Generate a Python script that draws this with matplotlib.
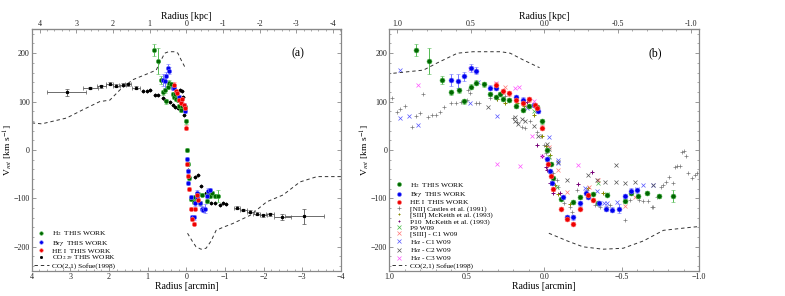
import numpy as np
import matplotlib
matplotlib.use("Agg")
from matplotlib import pyplot as plt
from matplotlib.ticker import AutoMinorLocator, FuncFormatter, MultipleLocator

plt.rcParams['font.family'] = ['Liberation Serif', 'DejaVu Serif']
plt.rcParams['mathtext.fontset'] = 'stix'

KPC_PER_ARCMIN = 1.055

# ---- this work: H2 (green) ----
h2_r = [0.826, 0.746, 0.66, 0.60, 0.553, 0.516, 0.471, 0.439, 0.39, 0.353, 0.31, 0.288, 0.263,
        0.226, 0.18, 0.137, 0.101, 0.047, 0.015,
        -0.021, -0.043, -0.06, -0.108, -0.185, -0.228, -0.314, -0.35, -0.405, -0.523, -0.56,
        -0.608, -0.663, -0.744, -0.83]
h2_v = [207, 184, 145, 119, 123, 101, 131, 139, 136, 115, 110, 116, 106,
        104, 91, 83, 91, 88, 59,
        0, -28, -57, -102, -108, -98, -90, -109, -92, -106, -88,
        -95, -88, -95, -95]
h2_err = [12, 26, 8, 5, 5, 5, 5, 5, 5, 4, 4, 4, 4,
          4, 4, 4, 4, 4, 6,
          4, 4, 4, 4, 4, 4, 4, 4, 4, 4, 4,
          4, 4, 5, 12]

# ---- this work: Br gamma (blue) ----
brg_r = [0.60, 0.557, 0.516, 0.471, 0.439, 0.353, 0.31, 0.18, 0.137, 0.069, 0.037,
         -0.02, -0.035, -0.05, -0.12, -0.146, -0.185, -0.228, -0.271, -0.28, -0.357,
         -0.40, -0.437, -0.48, -0.523, -0.56, -0.60]
brg_v = [145, 143, 152, 169, 164, 129, 129, 109, 104, 93, 81,
         -19, -43, -69, -98, -139, -139, -110, -88, -97, -110,
         -121, -123, -121, -95, -84, -83]
brg_err = [12, 15, 10, 8, 8, 5, 5, 5, 5, 5, 5,
           4, 4, 4, 4, 5, 5, 5, 5, 5, 5,
           6, 6, 10, 5, 5, 5]

# ---- this work: He I (red) ----
hei_r = [0.31, 0.267, 0.23, 0.18, 0.137, 0.10, 0.058, 0.047, 0.015,
         -0.024, -0.043, -0.06, -0.108, -0.146, -0.185, -0.228, -0.28, -0.314]
hei_v = [135, 121, 117, 104, 98, 105, 93, 86, 46,
         -29, -54, -81, -121, -143, -152, -121, -93, -104]
hei_err = [5, 5, 5, 5, 5, 5, 5, 5, 5,
           4, 4, 4, 4, 4, 4, 4, 4, 4]

# ---- this work: CO 2.29 (black) ----
co_r = [3.10, 2.48, 2.20, 1.98, 1.81, 1.65, 1.52, 1.31, 1.12, 1.03, 0.95, 0.82, 0.74, 0.61,
        0.56, 0.43, 0.35, 0.30, 0.22, 0.17, 0.12, 0.08, 0.05,
        -0.03, -0.07, -0.22, -0.31, -0.39, -0.52, -0.57, -0.65, -0.74, -0.87, -0.95, -1.02,
        -1.30, -1.47, -1.65, -1.82, -1.99, -2.16, -2.48, -3.05]
co_v = [119, 128, 132, 137, 133, 135, 136, 129, 121, 122, 124, 114, 113, 108,
        104, 100, 93, 89, 87, 124, 121, 110, 72,
        -41, -55, -55, -52, -75, -89, -86, -110, -110, -114, -110, -112,
        -119, -124, -128, -132, -135, -133, -138, -137]
co_xerr = [0.50, 0.19, 0.11, 0.09, 0.09, 0.08, 0.08, 0.10, 0, 0, 0, 0, 0, 0,
           0, 0, 0, 0, 0, 0, 0, 0, 0,
           0, 0, 0, 0, 0, 0, 0, 0, 0, 0, 0, 0,
           0.08, 0.09, 0.09, 0.09, 0.09, 0.10, 0.22, 0.50]
co_yerr = [8, 3, 3, 3, 3, 3, 3, 3, 0, 0, 0, 0, 0, 0,
           0, 0, 0, 0, 0, 0, 0, 0, 0,
           0, 0, 0, 0, 0, 0, 0, 0, 0, 0, 0, 0,
           3, 3, 3, 3, 3, 3, 6, 15]

# ---- CO(2,1) Sofue (1998) ----
sof_pos_r = [4.0, 3.74, 3.10, 2.68, 2.24, 1.98, 1.72, 1.39, 1.02, 0.78, 0.69, 0.56, 0.46,
             0.28, 0.22, 0.135, 0.03]
sof_pos_v = [56, 54, 66, 83, 100, 103, 124, 145, 157, 165, 180, 200, 203,
             203, 200, 186, 170]
sof_neg_r = [-0.03, -0.15, -0.25, -0.38, -0.51, -0.64, -0.77, -0.94, -1.2, -1.65, -2.08,
             -2.5, -2.94, -3.38, -3.8, -4.0]
sof_neg_v = [-172, -188, -200, -205, -203, -188, -166, -160, -152, -135, -107,
             -93, -66, -55, -55, -55]

# ---- literature (panel b) ----
nii_r = [0.98, 0.95, 0.93, 0.90, 0.853, 0.826, 0.80, 0.78, 0.75, 0.725, 0.70, 0.675, 0.65,
         0.60, 0.57, 0.54, 0.50, 0.495, 0.477, 0.44, 0.424, 0.35, 0.305, 0.25, 0.20, 0.176,
         0.144, 0.123, 0.09, 0.047, 0.021, 0.0, -0.013, -0.034, -0.06, -0.08, -0.092,
         -0.125, -0.168, -0.18, -0.21, -0.275, -0.33, -0.36, -0.405, -0.426, -0.523,
         -0.555, -0.61, -0.64, -0.673, -0.695, -0.705, -0.727, -0.753, -0.77, -0.787,
         -0.809, -0.83, -0.845, -0.86, -0.877, -0.888, -0.90, -0.916, -0.93, -0.953,
         -0.974, -0.99]
nii_v = [107, 79, 84, 90, 47, 71, 76, 115, 69, 72, 72, 79, 88,
         98, 97, 100, 104, 123, 117, 98, 98, 107, 105, 112, 66, 57,
         48, 45, 59, 38, 28, 10, -7, -17, -48, -61, -76,
         -110, -117, -128, -83, -83, -114, -117, -117, -114, -144,
         -104, -103, -106, -106, -117, -117, -97, -76, -72, -66,
         -55, -69, -35, -33, -33, -5, -3, -12, -48, -57,
         -52, -48]

siii_mk_r = [0.305, 0.25, 0.176, 0.133, 0.069, 0.015, -0.013, -0.04, -0.07, -0.092,
             -0.168, -0.28, -0.38]
siii_mk_v = [105, 97, 98, 91, 72, 28, 9, -10, -72, -90,
             -111, -79, -88]

p10_r = [0.11, 0.047, 0.015, -0.013, -0.021, -0.039, -0.056, -0.10, -0.22, -0.31]
p10_v = [100, 10, -12, -35, -41, -69, -88, -88, -70, -45]

p9_r = [0.069, -0.028, -0.08, -0.35, -0.405]
p9_v = [80, -15, -76, -68, -90]

siii_c1_r = [0.25, 0.112, -0.028, -0.092, -0.146, -0.292, -0.35, -0.523, -0.587]
siii_c1_v = [130, 90, 7, -41, -86, -76, -61, -116, -97]

ha_c1_r = [0.933, 0.93, 0.875, 0.815, 0.477, 0.43, 0.305, 0.112, -0.028, -0.092, -0.092,
           -0.265, -0.34, -0.383, -0.405, -0.469, -0.598, -0.64, -0.705]
ha_c1_v = [166, 66, 71, 52, 97, 141, 71, 86, 26, -21, -26,
           -79, -84, -110, -109, -107, -81, -72, -72]

ha_c2_r = [0.363, 0.19, 0.187, 0.172, 0.144, 0.123, 0.069, 0.037, -0.017, -0.034, -0.092,
           -0.146, -0.286, -0.34, -0.394, -0.465, -0.465, -0.523, -0.587, -0.705]
ha_c2_v = [88, 68, 59, 54, 64, 59, 50, 28, 12, 3, -24,
           -62, -52, -61, -66, -31, -67, -69, -66, -72]

ha_c3_r = [0.815, 0.477, 0.31, 0.19, 0.16, 0.069, 0.08, 0.305, 0.155, 0.015, -0.221]
ha_c3_v = [135, 167, 138, 128, 130, 102, 29, -29, -33, -12, -31]

GREEN, GREEN_E = '#006600', '#55bb55'
BLUE, BLUE_E = '#0000ee', '#7777ff'
RED, RED_E = '#ee0000', '#ff7777'
SPINE = '#888888'

LEG_A = [r'H$_2$  THIS WORK', r'Br$\gamma$  THIS WORK', r'HE I  THIS WORK',
         r'CO$_{2.29}$ THIS WORK', 'CO(2,1) Sofue(1998)']
LEG_B = [r'H$_2$  THIS WORK', r'Br$\gamma$  THIS WORK', r'HE I  THIS WORK',
         '[NII] Castles et al. (1991)', '[SIII] McKeith et al. (1993)',
         'P10  McKeith et al. (1993)', 'P9 W09', '[SIII] - C1 W09',
         r'H$\alpha$ - C1 W09', r'H$\alpha$ - C2 W09', r'H$\alpha$ - C3 W09',
         'CO(2,1) Sofue(1998)']


def style_axes(ax, xlim, xmajor, top_major, top_fmt):
    ax.set_xlim(*xlim)
    ax.set_ylim(-250, 250)
    ax.xaxis.set_major_locator(MultipleLocator(xmajor))
    ax.xaxis.set_minor_locator(AutoMinorLocator(5))
    ax.yaxis.set_major_locator(MultipleLocator(100))
    ax.yaxis.set_minor_locator(AutoMinorLocator(5))
    ax.tick_params(which='both', direction='in', colors=SPINE, labelcolor='#222222',
                   labelsize=5.8, bottom=True, left=True, right=True, top=False, pad=1.5)
    ax.tick_params(which='major', length=3, width=0.6)
    ax.tick_params(which='minor', length=1.5, width=0.5)
    for s in ax.spines.values():
        s.set_color(SPINE)
        s.set_linewidth(0.9)
    ax.set_xlabel('Radius [arcmin]', fontsize=7, labelpad=0.5)
    ax.set_ylabel(r'V$_{rot}$ [km s$^{-1}$]', fontsize=6.8)
    ax.yaxis.set_label_coords(-0.055, 0.5)

    sec = ax.secondary_xaxis('top', functions=(lambda x: x * KPC_PER_ARCMIN,
                                                lambda x: x / KPC_PER_ARCMIN))
    sec.xaxis.set_major_locator(MultipleLocator(top_major))
    sec.xaxis.set_minor_locator(AutoMinorLocator(5))
    sec.xaxis.set_major_formatter(FuncFormatter(top_fmt))
    sec.tick_params(which='both', direction='in', colors=SPINE, labelcolor='#222222',
                    labelsize=5.8, pad=1)
    sec.tick_params(which='major', length=3, width=0.6)
    sec.tick_params(which='minor', length=1.5, width=0.5)
    sec.spines['top'].set_color(SPINE)
    sec.set_xlabel('Radius [kpc]', fontsize=7, labelpad=0.5)


def plot_this_work(ax, ms):
    ax.errorbar(h2_r, h2_v, yerr=h2_err, fmt='o', color=GREEN, ms=ms, mec=GREEN_E, mew=0.4,
                ecolor=GREEN_E, elinewidth=0.7, capsize=1.2, capthick=0.5,
                label=LEG_A[0], zorder=5)
    ax.errorbar(brg_r, brg_v, yerr=brg_err, fmt='o', color=BLUE, ms=ms, mec=BLUE_E, mew=0.4,
                ecolor=BLUE_E, elinewidth=0.7, capsize=1.2, capthick=0.5,
                label=LEG_A[1], zorder=5)
    ax.errorbar(hei_r, hei_v, yerr=hei_err, fmt='o', color=RED, ms=ms, mec=RED_E, mew=0.4,
                ecolor=RED_E, elinewidth=0.7, capsize=1.2, capthick=0.5,
                label=LEG_A[2], zorder=5)


def ordered_legend(ax, order):
    handles, labels = ax.get_legend_handles_labels()
    lookup = dict(zip(labels, handles))
    hs = [lookup[k] for k in order]
    # show only markers for the errorbar entries, like the original
    hs = [h[0] if hasattr(h, 'lines') else h for h in hs]
    ax.legend(hs, order, loc='lower left', fontsize=5.3, frameon=False, labelspacing=0.05,
              handlelength=2.0, handletextpad=0.45, borderpad=0.2, borderaxespad=0.1,
              handleheight=0.5, markerscale=0.8)


def fmt_int(v, p):
    return '%d' % round(v) if abs(v) > 1e-9 else '0'


def fmt_one(v, p):
    return '%.1f' % v if abs(v) > 1e-9 else '0.0'


fig = plt.figure(figsize=(7.85, 2.96), dpi=100)
ax_a = fig.add_axes([0.0404, 0.0845, 0.394, 0.8176])
ax_b = fig.add_axes([0.496, 0.0845, 0.3945, 0.8176])

# ---- panel (a) ----
style_axes(ax_a, (4, -4), 1, 1, fmt_int)
plot_this_work(ax_a, 3.2)
ax_a.errorbar(co_r, co_v, xerr=co_xerr, yerr=co_yerr, fmt='s', color='black', ms=1.3,
              ecolor='#555555', elinewidth=0.6, capsize=1.2, capthick=0.5,
              label=LEG_A[3], zorder=4)
ax_a.plot(sof_pos_r, sof_pos_v, ls='--', color='#333333', lw=0.7, dashes=(3.5, 3),
          label=LEG_A[4])
ax_a.plot(sof_neg_r, sof_neg_v, ls='--', color='#333333', lw=0.7, dashes=(3.5, 3))
ax_a.text(0.86, 0.9, '(a)', transform=ax_a.transAxes, fontsize=8.5, ha='center', va='center')
ordered_legend(ax_a, LEG_A)

# ---- panel (b) ----
style_axes(ax_b, (1.0, -1.0), 0.5, 0.5, fmt_one)
plot_this_work(ax_b, 3.6)
ax_b.plot(nii_r, nii_v, '+', color='#777777', ms=2.8, mew=0.5, label=LEG_B[3])
ax_b.plot(siii_mk_r, siii_mk_v, '+', color='#888800', ms=2.2, mew=0.7, label=LEG_B[4])
ax_b.plot(p10_r, p10_v, '+', color='#770077', ms=2.2, mew=0.7, label=LEG_B[5])
ax_b.plot(p9_r, p9_v, 'x', color='#44bb44', ms=2.8, mew=0.5, label=LEG_B[6])
ax_b.plot(siii_c1_r, siii_c1_v, 'x', color='#ff7777', ms=2.8, mew=0.5, label=LEG_B[7])
ax_b.plot(ha_c1_r, ha_c1_v, 'x', color='#5555ff', ms=2.8, mew=0.5, label=LEG_B[8])
ax_b.plot(ha_c2_r, ha_c2_v, 'x', color='#555555', ms=2.8, mew=0.5, label=LEG_B[9])
ax_b.plot(ha_c3_r, ha_c3_v, 'x', color='#ff55ff', ms=2.8, mew=0.5, label=LEG_B[10])
ax_b.plot(sof_pos_r, sof_pos_v, ls='--', color='#333333', lw=0.7, dashes=(3.5, 3),
          label=LEG_B[11])
ax_b.plot(sof_neg_r, sof_neg_v, ls='--', color='#333333', lw=0.7, dashes=(3.5, 3))
ax_b.text(0.86, 0.9, '(b)', transform=ax_b.transAxes, fontsize=8.5, ha='center', va='center')
ordered_legend(ax_b, LEG_B)

fig.savefig('out.png', dpi=100)
